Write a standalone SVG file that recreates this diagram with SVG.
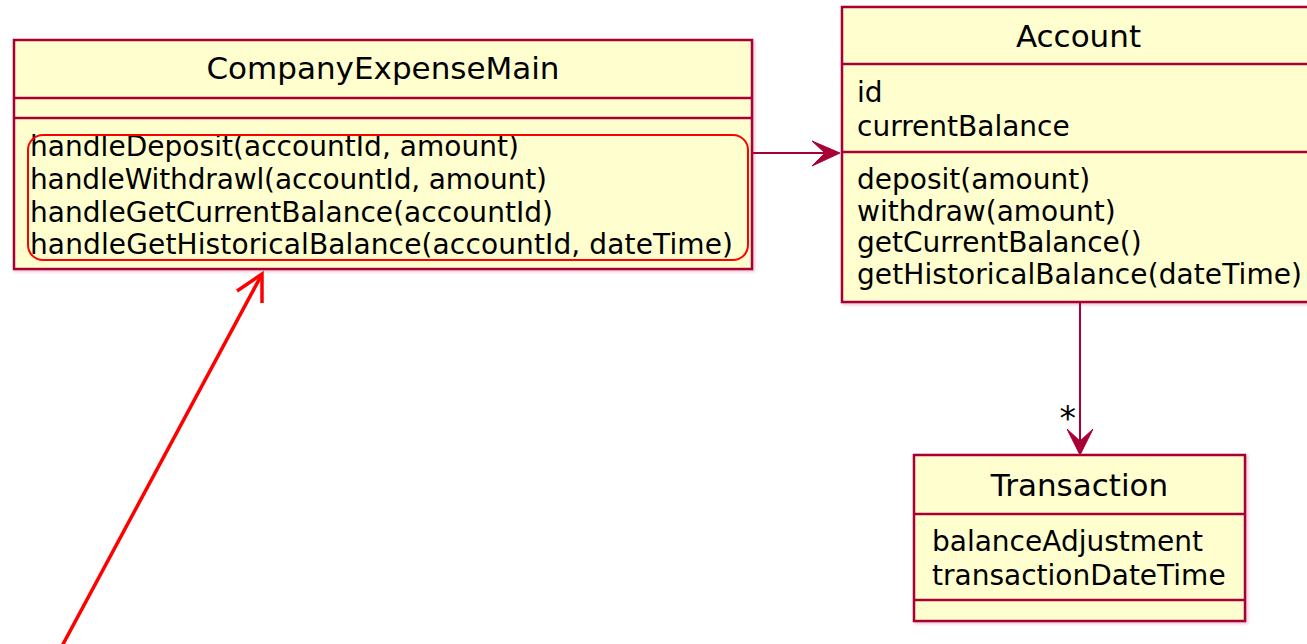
<svg xmlns="http://www.w3.org/2000/svg" width="1307" height="644" viewBox="0 0 1307 644">
  <style>
    .box { fill: #FEFECE; stroke: #A80036; stroke-width: 2.5; }
    .sep { stroke: #A80036; stroke-width: 2.5; }
    .title { font-family: "DejaVu Sans", sans-serif; font-size: 31px; fill: #000; text-anchor: middle; }
    .member { font-family: "DejaVu Sans", sans-serif; font-size: 28px; fill: #000; }
    .edge { stroke: #A80036; stroke-width: 2; fill: none; }
    .head { fill: #A80036; stroke: #A80036; stroke-width: 1; }
    .annot { stroke: #FF0000; fill: none; }
  </style>
  <defs>
    <filter id="shadow" x="-5%" y="-5%" width="110%" height="110%">
      <feDropShadow dx="1.5" dy="1.5" stdDeviation="1.5" flood-color="#A80036" flood-opacity="0.25"/>
    </filter>
  </defs>
  <rect width="1307" height="644" fill="#FFFFFF"/>

  <g id="connectors">
    <line class="edge" x1="752" y1="153" x2="834" y2="153"/>
    <polygon class="head" points="840,153 812,141 825,153 812,166"/>
    <line class="edge" x1="1080" y1="302" x2="1080" y2="449"/>
    <polygon class="head" points="1080,455 1067,429 1080,441 1093,429"/>
    <text class="member" x="1059.5" y="430" style="font-size:33px">*</text>
  </g>

  <g id="CompanyExpenseMain">
    <rect class="box" filter="url(#shadow)" x="14" y="40" width="738" height="229"/>
    <line class="sep" x1="14" y1="98" x2="752" y2="98"/>
    <line class="sep" x1="14" y1="118" x2="752" y2="118"/>
    <text class="title" x="383" y="78.5">CompanyExpenseMain</text>
    <text class="member" x="30" y="156" textLength="489" lengthAdjust="spacing">handleDeposit(accountId, amount)</text>
    <text class="member" x="30" y="189" textLength="517" lengthAdjust="spacing">handleWithdrawl(accountId, amount)</text>
    <text class="member" x="30" y="222" textLength="523" lengthAdjust="spacing">handleGetCurrentBalance(accountId)</text>
    <text class="member" x="30" y="254" textLength="703" lengthAdjust="spacing">handleGetHistoricalBalance(accountId, dateTime)</text>
  </g>

  <g id="Account">
    <rect class="box" filter="url(#shadow)" x="842" y="7" width="473" height="295"/>
    <line class="sep" x1="842" y1="64" x2="1315" y2="64"/>
    <line class="sep" x1="842" y1="152" x2="1315" y2="152"/>
    <text class="title" x="1078.5" y="46.5">Account</text>
    <text class="member" x="857" y="102">id</text>
    <text class="member" x="857" y="136">currentBalance</text>
    <text class="member" x="857" y="189">deposit(amount)</text>
    <text class="member" x="857" y="221">withdraw(amount)</text>
    <text class="member" x="857" y="252">getCurrentBalance()</text>
    <text class="member" x="857" y="284" textLength="445" lengthAdjust="spacing">getHistoricalBalance(dateTime)</text>
  </g>

  <g id="Transaction">
    <rect class="box" filter="url(#shadow)" x="914" y="455" width="331" height="166"/>
    <line class="sep" x1="914" y1="514" x2="1245" y2="514"/>
    <line class="sep" x1="914" y1="600" x2="1245" y2="600"/>
    <text class="title" x="1079.5" y="495.5">Transaction</text>
    <text class="member" x="932" y="551">balanceAdjustment</text>
    <text class="member" x="932" y="585">transactionDateTime</text>
  </g>

  <g id="annotation">
    <rect class="annot" x="28" y="135" width="720" height="125" rx="15" ry="15" stroke-width="2"/>
    <line class="annot" x1="61.5" y1="647" x2="261" y2="276" stroke-width="3.5"/>
    <polyline class="annot" points="237,291 262,274 262,303" stroke-width="3.5"/>
  </g>
</svg>
